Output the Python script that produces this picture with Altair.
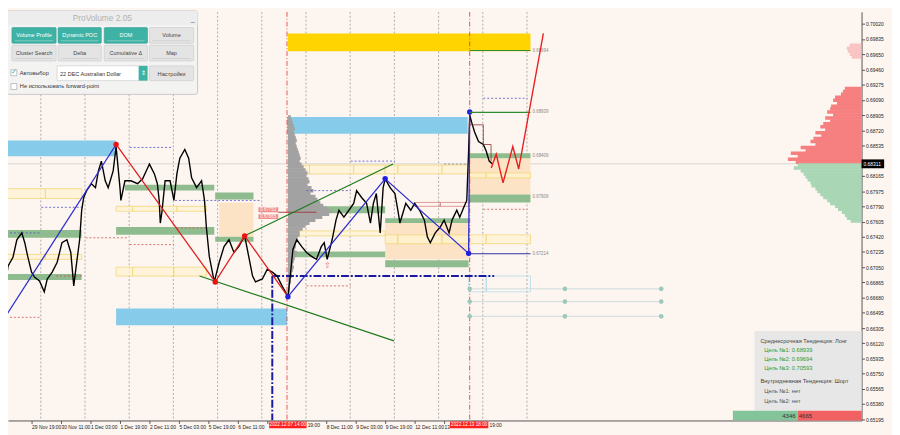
import altair as alt
import pandas as pd

# ---------------- price path (bar index u from 29 Nov 03:00, H1) ----------------
price_u = [0.5, 1.6, 3.2, 5.9, 8.0, 10.7, 12.3, 13.9, 16.0, 17.6,
           20.3, 22.9, 24.5, 27.2, 29.9, 32.5, 35.2, 37.3, 38.9, 40.5,
           42.1, 43.2, 44.3, 45.9, 48.5, 50.7, 52.3, 53.9, 56.0, 57.6,
           60.3, 61.9, 64.0, 64.5, 66.7, 69.9, 73.6, 76.3, 80.0, 82.7,
           84.3, 85.3, 85.9, 86.9, 88.5, 91.2, 93.3, 94.9, 96.5, 99.2,
           101.3, 102.9, 105.6, 108.3, 109.9, 110.9, 112.5, 115.2, 117.9, 120.5,
           123.2, 125.9, 128.5, 131.7, 133.9, 136.0, 137.6, 141.3, 144.0, 146.7,
           149.3, 152.0, 155.2, 156.3, 157.9, 160.0, 162.7, 165.3, 168.0, 170.7,
           173.3, 174.9, 176.5, 179.2, 181.3, 182.9, 185.6, 188.3, 190.9, 192.5,
           195.2, 197.9, 200.0, 201.6, 203.2, 205.3, 206.9, 208.0, 210.7, 213.3,
           214.9, 216.0, 217.6, 219.2, 221.9, 224.0, 226.7, 229.3, 230.9, 232.5,
           235.2, 237.9, 240.0, 242.7, 244.3, 246.9, 248.5, 250.7, 252.3, 253.3,
           253.9, 254.9, 256.5, 258.7, 261.3, 262.9, 264.5, 266.1]
price_p = [0.66401, 0.66785, 0.67061, 0.67169, 0.67384, 0.67468, 0.67348, 0.67181, 0.66989, 0.66929,
           0.66881, 0.66749, 0.66905, 0.66989, 0.67109, 0.67348, 0.67384, 0.67229, 0.66821, 0.67109,
           0.67384, 0.67744, 0.67900, 0.67984, 0.68068, 0.68020, 0.68224, 0.68344, 0.68104, 0.68020,
           0.68224, 0.68520, 0.68020, 0.67864, 0.68104, 0.68104, 0.68068, 0.68128, 0.68308, 0.68188,
           0.68068, 0.67864, 0.67588, 0.67744, 0.68104, 0.68104, 0.67864, 0.68188, 0.68380, 0.68487,
           0.68380, 0.68140, 0.68020, 0.68104, 0.67864, 0.67540, 0.67181, 0.66869, 0.67109, 0.67300,
           0.67384, 0.67229, 0.67300, 0.67432, 0.67181, 0.66941, 0.66869, 0.66905, 0.67025, 0.66989,
           0.66941, 0.66821, 0.66689, 0.66905, 0.67265, 0.67384, 0.67300, 0.67229, 0.67181, 0.67145,
           0.67300, 0.67348, 0.67145, 0.67384, 0.67624, 0.67744, 0.67660, 0.67744, 0.67828, 0.67984,
           0.67900, 0.67828, 0.67588, 0.67828, 0.67948, 0.67468, 0.68020, 0.68128, 0.68020, 0.67948,
           0.67744, 0.67588, 0.67708, 0.67828, 0.67744, 0.67828, 0.67744, 0.67624, 0.67420, 0.67348,
           0.67468, 0.67540, 0.67624, 0.67468, 0.67624, 0.67744, 0.67660, 0.67780, 0.67864, 0.68464,
           0.68907, 0.68823, 0.68703, 0.68583, 0.68547, 0.68464, 0.68344, 0.68311]
last_price = 0.68311

# ---------------- axes ----------------
x_tick_u = [0, 16, 32, 48, 64, 80, 96, 112, 128, 144, 160, 176, 192, 208, 224, 240, 256]
x_tick_labels = ["29 Nov 2022", "29 Nov 19:00", "30 Nov 11:00", "1 Dec 03:00", "1 Dec 19:00",
                 "2 Dec 11:00", "5 Dec 03:00", "5 Dec 19:00", "6 Dec 11:00", "",
                 "", "8 Dec 11:00", "9 Dec 03:00", "9 Dec 19:00", "12 Dec 11:00",
                 "13", ""]
# parts of time labels left visible right of the session boxes
tail_u = [165.9, 264.6]
tail_labels = ["19:00", "19:00"]
y_tick_values = [0.65195, 0.65380, 0.65565, 0.65750, 0.65935, 0.66120, 0.66305, 0.66495,
                 0.66680, 0.66865, 0.67050, 0.67235, 0.67420, 0.67605, 0.67790, 0.67975,
                 0.68165, 0.68535, 0.68720, 0.68905, 0.69090, 0.69275, 0.69460,
                 0.69650, 0.69835, 0.70020, 0.70205]
day_grid_u = [21, 45, 69, 93, 117, 141, 165, 189, 213, 237, 261, 285]
session_u = [154.7, 253.9]
session_box_u1 = [145.0, 243.2]
session_box_u2 = [165.3, 264.0]
session_labels = ["2022.12.07 14:00", "2022.12.13 18:00"]

# ---------------- zones ----------------
blue_u1 = [0.0, 61.9, 154.7]
blue_u2 = [61.9, 154.7, 252.8]
blue_p1 = [0.68404, 0.66341, 0.68679]
blue_p2 = [0.68595, 0.66545, 0.68883]

gold_u1 = [155.2]
gold_u2 = [286.9]
gold_p1 = [0.69686]
gold_p2 = [0.69902]

green_u1 = [0.0, 0.0, 61.9, 66.7, 115.7, 115.7, 155.2, 158.9, 208.0, 208.0, 253.3, 253.3]
green_u2 = [43.2, 43.2, 115.2, 115.2, 136.5, 136.5, 208.0, 208.0, 253.3, 253.3, 286.9, 286.9]
green_p1 = [0.67408, 0.66893, 0.67444, 0.67984, 0.67876, 0.67360, 0.67708, 0.67169, 0.67588, 0.67049, 0.68380, 0.67840]
green_p2 = [0.67504, 0.66965, 0.67540, 0.68056, 0.67960, 0.67420, 0.67792, 0.67241, 0.67648, 0.67133, 0.68440, 0.67936]

beige_u1 = [117.9, 208.0, 253.3]
beige_u2 = [136.5, 253.3, 286.9]
beige_p1 = [0.67420, 0.67145, 0.67936]
beige_p2 = [0.67840, 0.67588, 0.68380]

yel_u1 = [0.0, 23.5, 0.0, 23.5, 61.9, 70.9, 94.9, 61.9, 70.9, 93.3,
          155.2, 166.9, 190.9, 208.0, 214.9, 238.9, 157.3,
          208.0, 214.9, 238.9, 253.3, 262.9, 253.3, 262.9]
yel_u2 = [23.5, 43.2, 23.5, 43.2, 70.9, 94.9, 110.9, 70.9, 93.3, 110.9,
          166.9, 190.9, 208.0, 214.9, 238.9, 253.3, 208.0,
          214.9, 238.9, 253.3, 262.9, 286.9, 262.9, 286.9]
yel_p1 = [0.67888, 0.67888, 0.67145, 0.67145, 0.67732, 0.67732, 0.67732, 0.66941, 0.66941, 0.66941,
          0.68188, 0.68188, 0.68188, 0.68188, 0.68188, 0.68188, 0.67432,
          0.67336, 0.67336, 0.67336, 0.67336, 0.67336, 0.68140, 0.68140]
yel_p2 = [0.68008, 0.68008, 0.67205, 0.67205, 0.67792, 0.67792, 0.67792, 0.67049, 0.67049, 0.67049,
          0.68296, 0.68296, 0.68296, 0.68296, 0.68296, 0.68296, 0.67492,
          0.67444, 0.67444, 0.67444, 0.67444, 0.67444, 0.68200, 0.68200]

cyan_u1 = [253.3, 262.9]
cyan_u2 = [262.9, 286.9]
cyan_p1 = [0.66749, 0.66749]
cyan_p2 = [0.66941, 0.66941]

pinkbox_u1 = [224.0, 237.9]
pinkbox_u2 = [237.9, 253.3]
pinkbox_p1 = [0.67792, 0.67792]
pinkbox_p2 = [0.67840, 0.67840]

# dotted level lines
bdot_u1 = [0.0, 21.3, 69.3, 93.9, 165.3, 189.3, 261.3]
bdot_u2 = [20.3, 43.2, 92.3, 140.3, 189.3, 213.3, 285.3]
bdot_p = [0.67468, 0.67780, 0.68511, 0.67864, 0.67984, 0.68344, 0.69111]
rdot_u1 = [0.0, 45.3, 29.3, 69.3, 94.9, 165.3, 261.3]
rdot_u2 = [20.3, 68.3, 43.2, 93.3, 110.9, 189.3, 285.3]
rdot_p = [0.66437, 0.67408, 0.66941, 0.67325, 0.67528, 0.66821, 0.67756]
gdot_u1 = [240.0]
gdot_u2 = [253.3]
gdot_p = [0.68308]

# volume profile (middle, gray) — bins from 0.68883 downward, lengths in px units
mid_top = 0.68883
bin_step = 0.00036
mid_vol = [3, 4, 5, 6, 7, 6, 7, 8, 9, 8, 9, 10, 11, 12, 13, 12, 14, 16, 18, 20,
           19, 21, 22, 20, 24, 26, 23, 28, 30, 33, 36, 40, 45, 42, 35, 28, 22, 18, 15, 12,
           12, 10, 9, 8, 8, 7, 9, 8, 7, 6, 5, 6, 5, 4, 4, 3, 3, 2, 2, 2, 1]
mid_start_u = 155.2
poc_u1, poc_u2, poc_p = [149.9], [170.7], [0.67720]
poc_tags_p = [0.67750, 0.67666]
poc_tags = ["0.67753", "0.67665"]

# right-side volume profile
right_top_red = 0.69231
right_red = [17, 19, 21, 27, 29, 25, 31, 32, 35, 29, 37, 32, 39, 42, 37, 47, 41, 49, 52, 47,
             62, 57, 72, 65, 75, 67]
right_top_green = 0.68296
right_green = [65, 69, 62, 59, 57, 55, 52, 51, 47, 45, 42, 39, 35, 32, 27, 24, 20, 17, 15, 11]
right_top_pink = 0.69758
right_pink = [12, 15, 14, 12, 10]
right_edge_u = 466.67
bars_per_px = 1 / 1.875

# zigzag
zz_blue = [(0.5, 0.66401, 0), (61.9, 0.68547, 0),
           (155.2, 0.66689, 1), (208.0, 0.68128, 1), (253.3, 0.67217, 1), (253.9, 0.68943, 1)]
zz_red = [(61.9, 0.68547), (115.7, 0.66869), (131.7, 0.67432), (155.2, 0.66689)]
pts_red_u = [61.9, 115.7, 131.7]
pts_red_p = [0.68547, 0.66869, 0.67432]
pts_blue_u = [0.5, 155.2, 208.0, 253.3, 253.9]
pts_blue_p = [0.66401, 0.66689, 0.68128, 0.67217, 0.68943]
future_u = [265.6, 268.3, 272.0, 277.3, 280.5, 293.9]
future_p = [0.68260, 0.68428, 0.68080, 0.68523, 0.68248, 0.69902]
trend_up = [(131.7, 0.67432), (212.3, 0.68308)]
trend_dn = [(107.2, 0.66941), (212.8, 0.66150)]
step_u = [253.9, 261.3, 261.3, 265.5, 265.5]
step_p = [0.68787, 0.68787, 0.68547, 0.68547, 0.68344]
navy_h_u1, navy_h_u2, navy_p = [146.7], [267.2], [0.66941]
navy_v_u = [146.7]

# target lines on the right
tgt_u1 = 253.9
tgt_u2 = 286.9
tgt_green = [0.69694, 0.68939]
tgt_navy = [0.67214]
tgt_label_p = [0.69694, 0.68939, 0.68409, 0.67909, 0.67214]
teal_rows = [0.66785, 0.66629, 0.66449]
teal_u = [253.9, 305.6, 357.9]
arrow_u, arrow_p = [176.5], [0.67061]

# panel / info texts
btn_labels = ["Volume Profile", "Dynamic POC", "DOM", "Volume",
              "Cluster Search", "Delta", "Cumulative Δ", "Map"]
btn_active = [True, True, True, False, False, False, False, False]
targets = ["0.68939", "0.69694", "0.70593"]
vol_buy, vol_sell = "4346", "4665"

# ---------------- scales & helpers ----------------
xs = alt.Scale(domain=[3.2, 466.67], nice=False, zero=False)
ys = alt.Scale(domain=[0.65178, 0.70166], nice=False, zero=False)
label_arr = "[" + ",".join("'%s'" % s for s in x_tick_labels) + "]"
FONT = "Liberation Sans"
xaxis = alt.Axis(values=x_tick_u, labelExpr=label_arr + "[round(datum.value/16)]",
                 orient="bottom", title=None, grid=False, domainColor="#555555",
                 tickColor="#555555", tickSize=3, labelFontSize=5, labelColor="#222222",
                 labelAlign="left", labelPadding=1, labelFlush=False, labelOverlap=False,
                 labelFont=FONT)
yaxis = alt.Axis(values=y_tick_values, format=".5f", orient="right", title=None, grid=False,
                 domainColor="#555555", tickColor="#555555", tickSize=3, labelFontSize=5,
                 labelColor="#222222", labelPadding=1, labelFlush=False, labelOverlap=False,
                 labelFont=FONT)


def X(f):
    return alt.X(f, type="quantitative", scale=xs, axis=xaxis)


def Y(f):
    return alt.Y(f, type="quantitative", scale=ys, axis=yaxis)


def zone(u1, u2, p1, p2, fill, stroke=None, sw=0.7, op=1.0, fop=1.0):
    df = pd.DataFrame({"u1": u1, "u2": u2, "p1": p1, "p2": p2})
    kw = dict(fill=fill, opacity=op, fillOpacity=fop, clip=True)
    if stroke:
        kw.update(stroke=stroke, strokeWidth=sw)
    return alt.Chart(df).mark_rect(**kw).encode(x=X("u1"), x2="u2", y=Y("p1"), y2="p2")


def hline(u1, u2, p, color, dash=None, sw=0.8):
    df = pd.DataFrame({"u1": u1, "u2": u2, "p": p})
    kw = dict(color=color, strokeWidth=sw, clip=True)
    if dash:
        kw["strokeDash"] = dash
    return alt.Chart(df).mark_rule(**kw).encode(x=X("u1"), x2="u2", y=Y("p"))


def path(us, ps, color, sw=1.2, dash=None):
    df = pd.DataFrame({"u": us, "p": ps, "i": list(range(len(us)))})
    kw = dict(color=color, strokeWidth=sw, clip=True)
    if dash:
        kw["strokeDash"] = dash
    return alt.Chart(df).mark_line(**kw).encode(x=X("u"), y=Y("p"), order="i:Q")


dummy = alt.InlineData(values=[{"k": 0}])
OFF = 8


def pbox(x1, y1, x2, y2, fill, stroke=None, sw=0.6, op=1.0, cr=0):
    kw = dict(fill=fill, opacity=op)
    if stroke:
        kw.update(stroke=stroke, strokeWidth=sw)
    if cr:
        kw["cornerRadius"] = cr
    return alt.Chart(dummy).mark_rect(**kw).encode(
        x=alt.value(x1 - OFF), x2=alt.value(x2 - OFF), y=alt.value(y1 - OFF), y2=alt.value(y2 - OFF))


def ptext(x, y, txt, size=6, color="#333333", align="left"):
    return alt.Chart(dummy).mark_text(text=txt, fontSize=size, color=color, align=align,
                                      baseline="middle", font=FONT).encode(
        x=alt.value(x - OFF), y=alt.value(y - OFF))


layers = []
# day grid
layers.append(alt.Chart(pd.DataFrame({"u": day_grid_u})).mark_rule(
    color="#9A9A9A", strokeWidth=0.8, strokeDash=[2, 2], clip=True).encode(x=X("u")))
# bid line
layers.append(alt.Chart(pd.DataFrame({"p": [last_price]})).mark_rule(
    color="#CFCFCF", strokeWidth=0.8).encode(y=Y("p")))

# zones
layers.append(zone(blue_u1, blue_u2, blue_p1, blue_p2, "#86CBEA"))
layers.append(zone(gold_u1, gold_u2, gold_p1, gold_p2, "#FFD400"))
layers.append(zone(beige_u1, beige_u2, beige_p1, beige_p2, "#FCE3C5"))
layers.append(zone(green_u1, green_u2, green_p1, green_p2, "#8FBC8F"))
layers.append(zone(yel_u1, yel_u2, yel_p1, yel_p2, "#FFF3D0", stroke="#F0D46A", fop=0.7))
layers.append(zone(cyan_u1, cyan_u2, cyan_p1, cyan_p2, "#FFFFFF", stroke="#A9D9EA", fop=0.0))
layers.append(zone(pinkbox_u1, pinkbox_u2, pinkbox_p1, pinkbox_p2, "#FFFFFF", stroke="#D07070", fop=0.0))

# middle volume profile
half = bin_step * 0.6
mid_df = pd.DataFrame({"lvl": [mid_top - bin_step * i for i in range(len(mid_vol))], "v": mid_vol})
mid_df["p1"] = mid_df["lvl"] - half
mid_df["p2"] = mid_df["lvl"] + half
mid_df["u1"] = mid_start_u
mid_df["u2"] = mid_start_u + mid_df["v"] * bars_per_px
layers.append(alt.Chart(mid_df).mark_rect(fill="#A2A2A2", clip=True).encode(
    x=X("u1"), x2="u2", y=Y("p1"), y2="p2"))


def right_prof(top, vols, color):
    df = pd.DataFrame({"lvl": [top - bin_step * i for i in range(len(vols))], "v": vols})
    df["p1"] = df["lvl"] - half
    df["p2"] = df["lvl"] + half
    df["u2"] = right_edge_u
    df["u1"] = right_edge_u - df["v"] * bars_per_px
    return alt.Chart(df).mark_rect(fill=color, clip=True).encode(
        x=X("u1"), x2="u2", y=Y("p1"), y2="p2")


layers.append(right_prof(right_top_pink, right_pink, "#F8C4C4"))
layers.append(right_prof(right_top_red, right_red, "#F67F7F"))
layers.append(right_prof(right_top_green, right_green, "#A9D6B4"))

# dotted levels
layers.append(hline(bdot_u1, bdot_u2, bdot_p, "#5050C8", dash=[2, 2]))
layers.append(hline(rdot_u1, rdot_u2, rdot_p, "#D05050", dash=[2, 2]))
layers.append(hline(gdot_u1, gdot_u2, gdot_p, "#888888", dash=[2, 2]))
layers.append(hline(poc_u1, poc_u2, poc_p, "#A04040", sw=1.0))

# session verticals
layers.append(alt.Chart(pd.DataFrame({"u": session_u})).mark_rule(
    color="#E03030", strokeWidth=0.8, strokeDash=[5, 2, 1, 2], clip=True).encode(x=X("u")))

# navy dash-dot levels
layers.append(hline(navy_h_u1, navy_h_u2, navy_p, "#1A1AA0", dash=[8, 2, 2, 2], sw=2))
layers.append(alt.Chart(pd.DataFrame({"u": navy_v_u, "p1": navy_p, "p2": [0.65178]})).mark_rule(
    color="#1A1AA0", strokeWidth=2, strokeDash=[8, 2, 2, 2], clip=True).encode(
    x=X("u"), y=Y("p1"), y2="p2"))

# price
layers.append(path(price_u, price_p, "#000000", sw=1.4))

# trend lines
layers.append(path([a for a, b in trend_up], [b for a, b in trend_up], "#1E7B1E", sw=1.2))
layers.append(path([a for a, b in trend_dn], [b for a, b in trend_dn], "#1E7B1E", sw=1.2))

# zigzag
zb = pd.DataFrame({"u": [a for a, b, c in zz_blue], "p": [b for a, b, c in zz_blue],
                   "seg": [c for a, b, c in zz_blue], "i": list(range(len(zz_blue)))})
layers.append(alt.Chart(zb).mark_line(color="#2E2ED0", strokeWidth=1.3, clip=True).encode(
    x=X("u"), y=Y("p"), detail="seg:N", order="i:Q"))
layers.append(path([a for a, b in zz_red], [b for a, b in zz_red], "#E02020", sw=1.3))
layers.append(alt.Chart(pd.DataFrame({"u": pts_red_u, "p": pts_red_p})).mark_circle(
    color="#F01010", size=30, opacity=1, clip=True).encode(x=X("u"), y=Y("p")))
layers.append(alt.Chart(pd.DataFrame({"u": pts_blue_u, "p": pts_blue_p})).mark_circle(
    color="#2020E0", size=30, opacity=1, clip=True).encode(x=X("u"), y=Y("p")))

# step path and poc tags
layers.append(path(step_u, step_p, "#8B3030", sw=0.8))
tag_df = pd.DataFrame({"p": poc_tags_p, "t": poc_tags})
tag_df["p1"] = tag_df["p"] - 0.00030
tag_df["p2"] = tag_df["p"] + 0.00030
tag_df["u1"] = 139.2
tag_df["u2"] = 149.9
tag_df["um"] = 144.5
layers.append(alt.Chart(tag_df).mark_rect(fill="#F08C8C", clip=True).encode(
    x=X("u1"), x2="u2", y=Y("p1"), y2="p2"))
layers.append(alt.Chart(tag_df).mark_text(color="#FFFFFF", fontSize=4.5, font=FONT).encode(
    x=X("um"), y=Y("p"), text="t:N"))
layers.append(alt.Chart(pd.DataFrame({"u": arrow_u, "p": arrow_p})).mark_text(
    text="⇧", color="#E07070", fontSize=8).encode(x=X("u"), y=Y("p")))

# target lines and labels
layers.append(hline([tgt_u1] * 2, [tgt_u2] * 2, tgt_green, "#2E8B2E", sw=1.1))
layers.append(hline([tgt_u1], [tgt_u2], tgt_navy, "#3030A0", sw=1.1))
tl = pd.DataFrame({"p": tgt_label_p, "t": ["%.5f" % v for v in tgt_label_p], "u": [288.0] * 5})
layers.append(alt.Chart(tl).mark_text(color="#8A8A8A", fontSize=4.5, align="left", font=FONT).encode(
    x=X("u"), y=Y("p"), text="t:N"))

# teal projection rows
teal_df = pd.DataFrame({"u1": [teal_u[0]] * 3, "u2": [teal_u[-1]] * 3, "p": teal_rows})
layers.append(alt.Chart(teal_df).mark_rule(color="#C2D8D8", strokeWidth=0.8, clip=True).encode(
    x=X("u1"), x2="u2", y=Y("p")))
tp = pd.DataFrame({"u": [u for p in teal_rows for u in teal_u], "p": [p for p in teal_rows for u in teal_u]})
layers.append(alt.Chart(tp).mark_circle(color="#9CC8BE", size=22, opacity=1, clip=True).encode(
    x=X("u"), y=Y("p")))

# future path
layers.append(path(future_u, future_p, "#E82020", sw=1.4))

# ---------------- ProVolume panel ----------------
layers.append(pbox(7, 7, 201, 92, "#F3F3F3", stroke="#BDBDBD", sw=0.8, op=0.97, cr=2))
layers.append(pbox(7, 7, 201, 21, "#EDEDED"))
layers.append(ptext(104, 14, "ProVolume 2.05", size=8.5, color="#B2B2B2", align="center"))
layers.append(ptext(196, 15, "_", size=7, color="#666666", align="center"))
cols = [(12, 57), (59, 103), (106, 150), (152, 197)]
rows = [(24, 40), (42, 58)]
for k, (lab, act) in enumerate(zip(btn_labels, btn_active)):
    x1, x2 = cols[k % 4]
    y1, y2 = rows[k // 4]
    if act:
        layers.append(pbox(x1, y1, x2, y2, "#3FB2A6", stroke="#36A094", sw=0.6, cr=1))
        layers.append(pbox(x1 + 3, y2 - 3, x2 - 3, y2 - 2, "#7FC9C1"))
        layers.append(ptext((x1 + x2) / 2, (y1 + y2) / 2, lab, size=5.6, color="#FFFFFF", align="center"))
    else:
        layers.append(pbox(x1, y1, x2, y2, "#E4E4E4", stroke="#C9C9C9", sw=0.6, cr=1))
        layers.append(pbox(x1 + 3, y2 - 3, x2 - 3, y2 - 2, "#D2D2D2"))
        layers.append(ptext((x1 + x2) / 2, (y1 + y2) / 2, lab, size=5.6, color="#444444", align="center"))
layers.append(pbox(11, 67, 17, 73, "#FFFFFF", stroke="#9A9A9A", sw=0.6))
layers.append(ptext(14, 69.5, "✓", size=7, color="#3FB2A6", align="center"))
layers.append(ptext(20, 70, "Автовыбор", size=5.8))
layers.append(pbox(58, 63, 150, 78, "#FFFFFF", stroke="#C8C8C8", sw=0.6))
layers.append(pbox(141, 63, 150, 78, "#3FB2A6"))
layers.append(ptext(145.5, 70.5, "⇕", size=6, color="#FFFFFF", align="center"))
layers.append(ptext(61, 71, "22 DEC Australian Dollar", size=5.6))
layers.append(pbox(152, 63, 197, 78, "#E4E4E4", stroke="#C9C9C9", sw=0.6, cr=1))
layers.append(ptext(174.5, 71, "Настройки", size=5.8, color="#444444", align="center"))
layers.append(pbox(11, 81, 17, 87, "#FFFFFF", stroke="#9A9A9A", sw=0.6))
layers.append(ptext(20, 84, "Не использовать forward-point", size=5.8))

# ---------------- info box ----------------
layers.append(pbox(768, 333, 877, 414, "#E6E6E6", op=0.95))
layers.append(ptext(774, 343, "Среднесрочная Тенденция: Лонг", size=5.8, color="#444444"))
for j, t in enumerate(targets):
    layers.append(ptext(778, 352 + 9.5 * j, "Цель №%d: %s" % (j + 1, t), size=5.8, color="#2E9B2E"))
layers.append(ptext(774, 384, "Внутридневная Тенденция: Шорт", size=5.8, color="#444444"))
layers.append(ptext(778, 394, "Цель №1: нет", size=5.8, color="#555555"))
layers.append(ptext(778, 404, "Цель №2: нет", size=5.8, color="#555555"))

# buy/sell bar
layers.append(pbox(746, 414, 812, 424, "#84C49A"))
layers.append(pbox(812, 414, 877, 424, "#F26161"))
layers.append(ptext(810, 419.5, vol_buy, size=6.2, color="#333333", align="right"))
layers.append(ptext(813, 419.5, vol_sell, size=6.2, color="#333333", align="left"))

# session labels on time axis
sess = pd.DataFrame({"u1": session_box_u1, "u2": session_box_u2, "t": session_labels})
sess["um"] = (sess["u1"] + sess["u2"]) / 2
layers.append(alt.Chart(sess).mark_rect(fill="#FF1E1E").encode(
    x=X("u1"), x2="u2", y=alt.value(417), y2=alt.value(424)))
layers.append(alt.Chart(sess).mark_text(color="#FFFFFF", fontSize=4.8, font=FONT).encode(
    x=X("um"), y=alt.value(420.7), text="t:N"))
tails = pd.DataFrame({"u": tail_u, "t": tail_labels})
layers.append(alt.Chart(tails).mark_text(color="#222222", fontSize=5, font=FONT, align="left").encode(
    x=X("u"), y=alt.value(420.7), text="t:N"))

# current price tag
cp = pd.DataFrame({"p": [last_price], "p1": [last_price - 0.00054], "p2": [last_price + 0.00054],
                   "t": ["%.5f" % last_price]})
layers.append(alt.Chart(cp).mark_rect(fill="#000000").encode(
    x=alt.value(869), x2=alt.value(892), y=Y("p1"), y2="p2"))
layers.append(alt.Chart(cp).mark_text(color="#FFFFFF", fontSize=5, align="left", font=FONT).encode(
    x=alt.value(871), y=Y("p"), text="t:N"))

chart = alt.layer(*layers).properties(
    width=869, height=416,
    autosize=alt.AutoSizeParams(type="none"),
    padding={"left": 0, "top": 0, "right": 31, "bottom": 19},
    background="#FDF5EF",
).configure_view(stroke=None)

chart.save("out.html", embed_options={"renderer": "svg", "actions": False})
